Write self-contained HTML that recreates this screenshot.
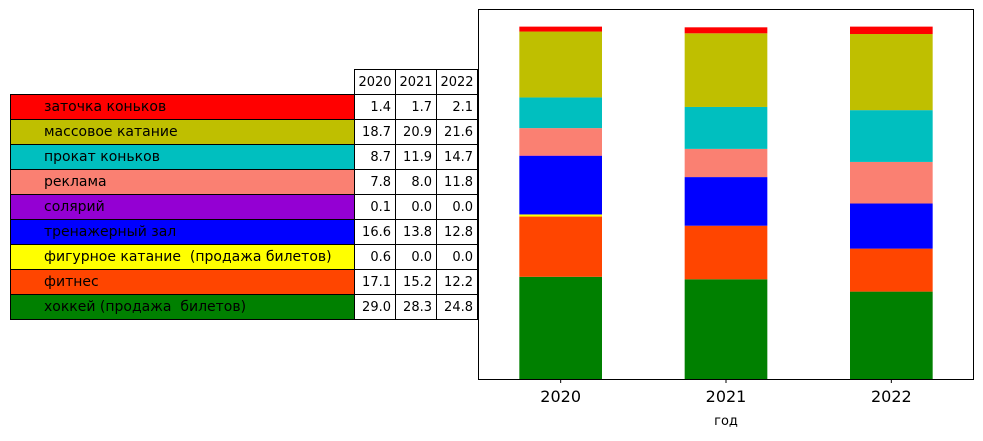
<!DOCTYPE html>
<html><head><meta charset="utf-8">
<style>
body{margin:0;background:#fff;width:983px;height:436px;overflow:hidden;}
svg text{font-family:"DejaVu Sans","Liberation Sans",sans-serif;white-space:pre;}
</style></head>
<body>
<svg id="chart" width="983" height="436" xmlns="http://www.w3.org/2000/svg" xml:space="preserve"></svg>
<script>
const years = ["2020","2021","2022"];
const seriesNames = ["заточка коньков","массовое катание","прокат коньков","реклама","солярий","тренажерный зал","фигурное катание  (продажа билетов)","фитнес","хоккей (продажа  билетов)"];
const seriesColors = ["#ff0000","#bfbf00","#00bfbf","#fa8072","#9400d3","#0000ff","#ffff00","#ff4500","#008000"];
const zatochka = [1.4,1.7,2.1];
const massovoe = [18.7,20.9,21.6];
const prokat = [8.7,11.9,14.7];
const reklama = [7.8,8.0,11.8];
const solyariy = [0.1,0.0,0.0];
const trenazher = [16.6,13.8,12.8];
const figurnoe = [0.6,0.0,0.0];
const fitnes = [17.1,15.2,12.2];
const hokkey = [29.0,28.3,24.8];
const seriesValues = [zatochka,massovoe,prokat,reklama,solyariy,trenazher,figurnoe,fitnes,hokkey];

const svg = document.getElementById('chart');
const NS = "http://www.w3.org/2000/svg";
function mk(tag, attrs){const e=document.createElementNS(NS,tag);for(const k in attrs)e.setAttribute(k,attrs[k]);return e;}

const ax = {x0:478, x1:974, y0:9, y1:379};
const yMax = 105;
const xScale = i => ax.x0 + (i + 0.5) * (ax.x1 - ax.x0) / years.length;
const yScale = v => ax.y1 - v / yMax * (ax.y1 - ax.y0);
const bw = 0.5 * (ax.x1 - ax.x0) / years.length;

for (let j = 0; j < years.length; j++) {
  let cum = 0;
  for (let s = seriesNames.length - 1; s >= 0; s--) {
    const v = seriesValues[s][j];
    const r = mk('rect', {x: xScale(j) - bw/2, y: yScale(cum + v), width: bw, height: yScale(cum) - yScale(cum + v), fill: seriesColors[s]});
    
    
    svg.appendChild(r);
    cum += v;
  }
  const t = mk('line', {x1: xScale(j), x2: xScale(j), y1: ax.y1, y2: ax.y1 + 4, stroke: '#000'});
  svg.appendChild(t);
  const lbl = mk('text', {x: xScale(j), y: ax.y1 + 23, 'text-anchor': 'middle', 'font-size': '16', fill: '#000'});
  lbl.textContent = years[j];
  
  
  svg.appendChild(lbl);
}
const frame = mk('rect', {x: ax.x0+0.5, y: ax.y0+0.5, width: ax.x1-ax.x0-1, height: ax.y1-ax.y0, fill: 'none', stroke: '#000'});


svg.appendChild(frame);
const xt = mk('text', {x: (ax.x0+ax.x1)/2, y: 425, 'text-anchor': 'middle', 'font-size': '13', fill: '#000'});
xt.textContent = 'год';


svg.appendChild(xt);

const tb = {lx: 10, lw: 344, cw: 41, top: 69, rh: 25};
const colX = i => tb.lx + tb.lw + i * tb.cw;
for (let j = 0; j < years.length; j++) {
  const c = mk('rect', {x: colX(j)+0.5, y: tb.top+0.5, width: tb.cw, height: tb.rh, fill: '#fff', stroke: '#000'});
  
  
  svg.appendChild(c);
  const t = mk('text', {x: colX(j) + tb.cw/2 + 0.5, y: tb.top + 17, 'text-anchor': 'middle', 'font-size': '13'});
  t.textContent = years[j];
  svg.appendChild(t);
}
for (let s = 0; s < seriesNames.length; s++) {
  const y = tb.top + tb.rh * (s + 1);
  const lc = mk('rect', {x: tb.lx+0.5, y: y+0.5, width: tb.lw, height: tb.rh, fill: seriesColors[s], stroke: '#000'});
  
  
  svg.appendChild(lc);
  const lt = mk('text', {x: 44, y: y + 17, 'font-size': '14'});
  lt.textContent = seriesNames[s];
  svg.appendChild(lt);
  for (let j = 0; j < years.length; j++) {
    const c = mk('rect', {x: colX(j)+0.5, y: y+0.5, width: tb.cw, height: tb.rh, fill: '#fff', stroke: '#000'});
    
    
    svg.appendChild(c);
    const t = mk('text', {x: colX(j) + tb.cw - 4, y: y + 17, 'text-anchor': 'end', 'font-size': '13'});
    t.textContent = seriesValues[s][j].toFixed(1);
    svg.appendChild(t);
  }
}
</script>
</body></html>
